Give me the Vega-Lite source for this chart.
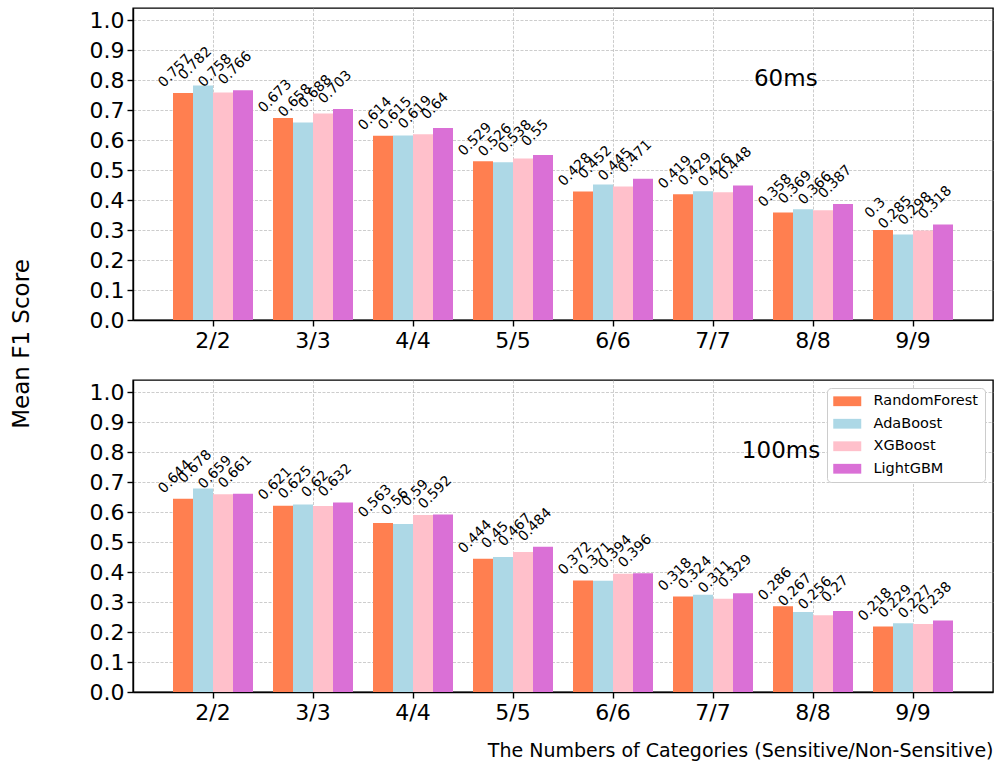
{
  "$schema": "https://vega.github.io/schema/vega-lite/v6.json",
  "padding": {"left": 11, "top": 7, "right": 1, "bottom": 5},
  "background": "white",
  "title": {"text": "Mean F1 Score", "orient": "left", "anchor": "middle", "fontSize": 23, "fontWeight": "normal", "font": "DejaVu Sans", "color": "black", "offset": 54, "dx": 40},
  "datasets": {
    "scores": [
      {"delay": "60ms", "cat": "2/2", "model": "RandomForest", "f1": 0.757},
      {"delay": "60ms", "cat": "2/2", "model": "AdaBoost", "f1": 0.782},
      {"delay": "60ms", "cat": "2/2", "model": "XGBoost", "f1": 0.758},
      {"delay": "60ms", "cat": "2/2", "model": "LightGBM", "f1": 0.766},
      {"delay": "60ms", "cat": "3/3", "model": "RandomForest", "f1": 0.673},
      {"delay": "60ms", "cat": "3/3", "model": "AdaBoost", "f1": 0.658},
      {"delay": "60ms", "cat": "3/3", "model": "XGBoost", "f1": 0.688},
      {"delay": "60ms", "cat": "3/3", "model": "LightGBM", "f1": 0.703},
      {"delay": "60ms", "cat": "4/4", "model": "RandomForest", "f1": 0.614},
      {"delay": "60ms", "cat": "4/4", "model": "AdaBoost", "f1": 0.615},
      {"delay": "60ms", "cat": "4/4", "model": "XGBoost", "f1": 0.619},
      {"delay": "60ms", "cat": "4/4", "model": "LightGBM", "f1": 0.64},
      {"delay": "60ms", "cat": "5/5", "model": "RandomForest", "f1": 0.529},
      {"delay": "60ms", "cat": "5/5", "model": "AdaBoost", "f1": 0.526},
      {"delay": "60ms", "cat": "5/5", "model": "XGBoost", "f1": 0.538},
      {"delay": "60ms", "cat": "5/5", "model": "LightGBM", "f1": 0.55},
      {"delay": "60ms", "cat": "6/6", "model": "RandomForest", "f1": 0.428},
      {"delay": "60ms", "cat": "6/6", "model": "AdaBoost", "f1": 0.452},
      {"delay": "60ms", "cat": "6/6", "model": "XGBoost", "f1": 0.445},
      {"delay": "60ms", "cat": "6/6", "model": "LightGBM", "f1": 0.471},
      {"delay": "60ms", "cat": "7/7", "model": "RandomForest", "f1": 0.419},
      {"delay": "60ms", "cat": "7/7", "model": "AdaBoost", "f1": 0.429},
      {"delay": "60ms", "cat": "7/7", "model": "XGBoost", "f1": 0.426},
      {"delay": "60ms", "cat": "7/7", "model": "LightGBM", "f1": 0.448},
      {"delay": "60ms", "cat": "8/8", "model": "RandomForest", "f1": 0.358},
      {"delay": "60ms", "cat": "8/8", "model": "AdaBoost", "f1": 0.369},
      {"delay": "60ms", "cat": "8/8", "model": "XGBoost", "f1": 0.366},
      {"delay": "60ms", "cat": "8/8", "model": "LightGBM", "f1": 0.387},
      {"delay": "60ms", "cat": "9/9", "model": "RandomForest", "f1": 0.3},
      {"delay": "60ms", "cat": "9/9", "model": "AdaBoost", "f1": 0.285},
      {"delay": "60ms", "cat": "9/9", "model": "XGBoost", "f1": 0.298},
      {"delay": "60ms", "cat": "9/9", "model": "LightGBM", "f1": 0.318},
      {"delay": "100ms", "cat": "2/2", "model": "RandomForest", "f1": 0.644},
      {"delay": "100ms", "cat": "2/2", "model": "AdaBoost", "f1": 0.678},
      {"delay": "100ms", "cat": "2/2", "model": "XGBoost", "f1": 0.659},
      {"delay": "100ms", "cat": "2/2", "model": "LightGBM", "f1": 0.661},
      {"delay": "100ms", "cat": "3/3", "model": "RandomForest", "f1": 0.621},
      {"delay": "100ms", "cat": "3/3", "model": "AdaBoost", "f1": 0.625},
      {"delay": "100ms", "cat": "3/3", "model": "XGBoost", "f1": 0.62},
      {"delay": "100ms", "cat": "3/3", "model": "LightGBM", "f1": 0.632},
      {"delay": "100ms", "cat": "4/4", "model": "RandomForest", "f1": 0.563},
      {"delay": "100ms", "cat": "4/4", "model": "AdaBoost", "f1": 0.56},
      {"delay": "100ms", "cat": "4/4", "model": "XGBoost", "f1": 0.59},
      {"delay": "100ms", "cat": "4/4", "model": "LightGBM", "f1": 0.592},
      {"delay": "100ms", "cat": "5/5", "model": "RandomForest", "f1": 0.444},
      {"delay": "100ms", "cat": "5/5", "model": "AdaBoost", "f1": 0.45},
      {"delay": "100ms", "cat": "5/5", "model": "XGBoost", "f1": 0.467},
      {"delay": "100ms", "cat": "5/5", "model": "LightGBM", "f1": 0.484},
      {"delay": "100ms", "cat": "6/6", "model": "RandomForest", "f1": 0.372},
      {"delay": "100ms", "cat": "6/6", "model": "AdaBoost", "f1": 0.371},
      {"delay": "100ms", "cat": "6/6", "model": "XGBoost", "f1": 0.394},
      {"delay": "100ms", "cat": "6/6", "model": "LightGBM", "f1": 0.396},
      {"delay": "100ms", "cat": "7/7", "model": "RandomForest", "f1": 0.318},
      {"delay": "100ms", "cat": "7/7", "model": "AdaBoost", "f1": 0.324},
      {"delay": "100ms", "cat": "7/7", "model": "XGBoost", "f1": 0.311},
      {"delay": "100ms", "cat": "7/7", "model": "LightGBM", "f1": 0.329},
      {"delay": "100ms", "cat": "8/8", "model": "RandomForest", "f1": 0.286},
      {"delay": "100ms", "cat": "8/8", "model": "AdaBoost", "f1": 0.267},
      {"delay": "100ms", "cat": "8/8", "model": "XGBoost", "f1": 0.256},
      {"delay": "100ms", "cat": "8/8", "model": "LightGBM", "f1": 0.27},
      {"delay": "100ms", "cat": "9/9", "model": "RandomForest", "f1": 0.218},
      {"delay": "100ms", "cat": "9/9", "model": "AdaBoost", "f1": 0.229},
      {"delay": "100ms", "cat": "9/9", "model": "XGBoost", "f1": 0.227},
      {"delay": "100ms", "cat": "9/9", "model": "LightGBM", "f1": 0.238}
    ],
    "notes": [
      {"delay": "60ms", "cat": "8/8", "y": 0.803, "label": "60ms"},
      {"delay": "100ms", "cat": "8/8", "y": 0.803, "label": "100ms"}
    ]
  },
  "spacing": 27,
  "resolve": {"legend": {"color": "independent"}},
  "vconcat": [
    {
      "width": 860,
      "height": 312,
      "layer": [
        {
          "data": {"name": "scores"},
          "transform": [{"filter": "datum.delay === '60ms'"}],
          "mark": {"type": "bar"},
          "encoding": {
            "x": {"field": "cat", "type": "nominal", "sort": null, "scale": {"paddingInner": 0.2, "paddingOuter": 0.4}, "axis": {"title": null}},
            "xOffset": {"field": "model", "type": "nominal", "scale": {"domain": ["RandomForest", "AdaBoost", "XGBoost", "LightGBM"], "paddingInner": 0, "paddingOuter": 0}},
            "y": {"field": "f1", "type": "quantitative", "scale": {"domain": [0, 1.04], "nice": false, "zero": true}, "axis": {"title": null}},
            "color": {"field": "model", "type": "nominal", "scale": {"domain": ["RandomForest", "AdaBoost", "XGBoost", "LightGBM"], "range": ["#FF7F50", "#ADD8E6", "#FFC0CB", "#DA70D6"]}, "legend": null}
          }
        },
        {
          "data": {"name": "scores"},
          "transform": [{"filter": "datum.delay === '60ms'"}],
          "mark": {"type": "text", "angle": -45, "align": "center", "baseline": "middle", "dx": 10, "dy": -21, "fontSize": 14, "font": "DejaVu Sans", "color": "black"},
          "encoding": {
            "x": {"field": "cat", "type": "nominal", "sort": null},
            "xOffset": {"field": "model", "type": "nominal", "scale": {"domain": ["RandomForest", "AdaBoost", "XGBoost", "LightGBM"]}},
            "y": {"field": "f1", "type": "quantitative"},
            "text": {"field": "f1", "type": "quantitative", "format": "~g"}
          }
        },
        {
          "data": {"name": "notes"},
          "transform": [{"filter": "datum.delay === '60ms'"}],
          "mark": {"type": "text", "align": "center", "baseline": "middle", "fontSize": 23, "font": "DejaVu Sans", "color": "black"},
          "encoding": {
            "x": {"field": "cat", "type": "nominal", "sort": null, "bandPosition": 0.16},
            "y": {"field": "y", "type": "quantitative"},
            "text": {"field": "label", "type": "nominal"}
          }
        }
      ]
    },
    {
      "width": 860,
      "height": 312,
      "layer": [
        {
          "data": {"name": "scores"},
          "transform": [{"filter": "datum.delay === '100ms'"}],
          "mark": {"type": "bar"},
          "encoding": {
            "x": {"field": "cat", "type": "nominal", "sort": null, "scale": {"paddingInner": 0.2, "paddingOuter": 0.4}, "axis": {"title": "The Numbers of Categories (Sensitive/Non-Sensitive)", "titleAnchor": "end", "titleFontSize": 19, "titleFontWeight": "normal", "titlePadding": 18}},
            "xOffset": {"field": "model", "type": "nominal", "scale": {"domain": ["RandomForest", "AdaBoost", "XGBoost", "LightGBM"], "paddingInner": 0, "paddingOuter": 0}},
            "y": {"field": "f1", "type": "quantitative", "scale": {"domain": [0, 1.04], "nice": false, "zero": true}, "axis": {"title": null}},
            "color": {"field": "model", "type": "nominal", "scale": {"domain": ["RandomForest", "AdaBoost", "XGBoost", "LightGBM"], "range": ["#FF7F50", "#ADD8E6", "#FFC0CB", "#DA70D6"]}, "legend": {"orient": "top-right", "offset": 8, "title": null}}
          }
        },
        {
          "data": {"name": "scores"},
          "transform": [{"filter": "datum.delay === '100ms'"}],
          "mark": {"type": "text", "angle": -45, "align": "center", "baseline": "middle", "dx": 10, "dy": -21, "fontSize": 14, "font": "DejaVu Sans", "color": "black"},
          "encoding": {
            "x": {"field": "cat", "type": "nominal", "sort": null},
            "xOffset": {"field": "model", "type": "nominal", "scale": {"domain": ["RandomForest", "AdaBoost", "XGBoost", "LightGBM"]}},
            "y": {"field": "f1", "type": "quantitative"},
            "text": {"field": "f1", "type": "quantitative", "format": "~g"}
          }
        },
        {
          "data": {"name": "notes"},
          "transform": [{"filter": "datum.delay === '100ms'"}],
          "mark": {"type": "text", "align": "center", "baseline": "middle", "fontSize": 23, "font": "DejaVu Sans", "color": "black"},
          "encoding": {
            "x": {"field": "cat", "type": "nominal", "sort": null, "bandPosition": 0.1},
            "y": {"field": "y", "type": "quantitative"},
            "text": {"field": "label", "type": "nominal"}
          }
        }
      ]
    }
  ],
  "config": {
    "font": "DejaVu Sans",
    "view": {"stroke": "black", "strokeWidth": 1.4},
    "axis": {
      "labelFont": "DejaVu Sans",
      "labelFontSize": 22,
      "labelColor": "black",
      "titleFont": "DejaVu Sans",
      "titleColor": "black",
      "domainColor": "black",
      "domainWidth": 1.4,
      "tickColor": "black",
      "tickWidth": 1.4,
      "tickSize": 6,
      "grid": true,
      "gridColor": "#b0b0b0",
      "gridOpacity": 0.8,
      "gridDash": [3, 1.5],
      "gridWidth": 0.8,
      "zindex": 1
    },
    "axisX": {"labelAngle": 0, "labelPadding": 4, "bandPosition": 0.5},
    "axisY": {"values": [0, 0.1, 0.2, 0.3, 0.4, 0.5, 0.6, 0.7, 0.8, 0.9, 1.0], "format": ".1f", "labelPadding": 3},
    "legend": {
      "labelFont": "DejaVu Sans",
      "labelFontSize": 14.5,
      "labelColor": "black",
      "symbolType": "M-1,-0.7H3V0.7H-1Z",
      "symbolSize": 196,
      "symbolStrokeWidth": 0,
      "symbolOpacity": 1,
      "labelOffset": 26,
      "rowPadding": 7.5,
      "padding": 6,
      "strokeColor": "#cccccc",
      "fillColor": "white",
      "cornerRadius": 4
    }
  }
}
